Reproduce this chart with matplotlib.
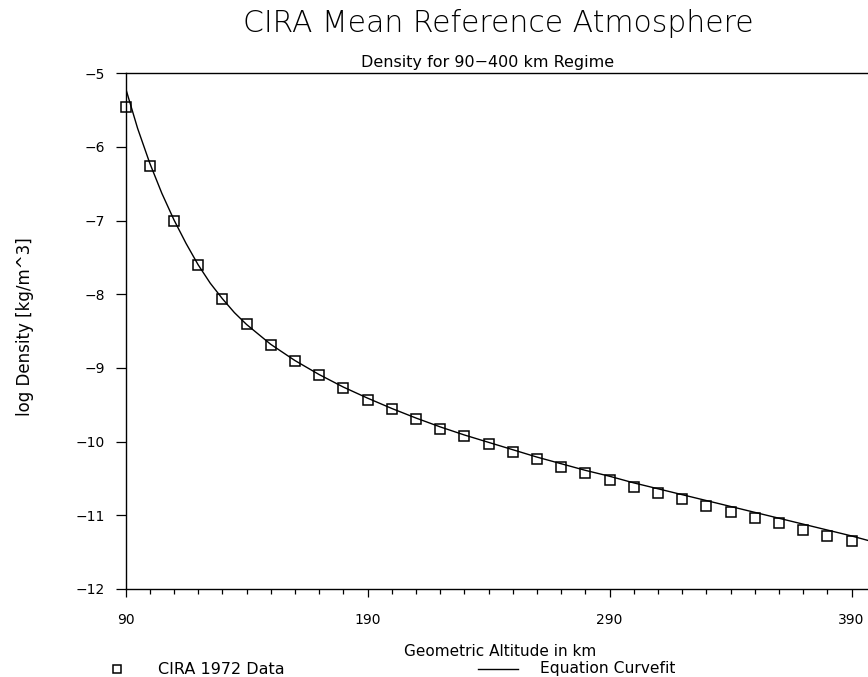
import matplotlib
matplotlib.use('Agg')
import matplotlib.pyplot as plt
from matplotlib.lines import Line2D
from matplotlib.ticker import MultipleLocator

# CIRA 1972 data points (altitude km, log10 density kg/m^3)
altitude = [90, 100, 110, 120, 130, 140, 150, 160, 170, 180, 190,
            200, 210, 220, 230, 240, 250, 260, 270, 280, 290,
            300, 310, 320, 330, 340, 350, 360, 370, 380, 390]
log_density = [-5.46, -6.26, -7.01, -7.61, -8.07, -8.41, -8.69, -8.90, -9.10, -9.27, -9.43,
               -9.56, -9.70, -9.83, -9.93, -10.03, -10.14, -10.24, -10.34, -10.43, -10.52,
               -10.61, -10.70, -10.78, -10.87, -10.95, -11.03, -11.11, -11.20, -11.28, -11.35]

# equation curvefit
fit_altitude = [90, 95, 100, 105, 110, 115, 120, 125, 130, 135, 140, 150, 160, 170, 180,
                190, 200, 210, 220, 230, 240, 250, 260, 270, 280, 290, 300, 310,
                320, 330, 340, 350, 360, 370, 380, 390, 400]
fit_log_density = [-5.20, -5.75, -6.22, -6.63, -6.99, -7.31, -7.60, -7.85, -8.06, -8.25,
                   -8.41, -8.68, -8.90, -9.09, -9.26, -9.41, -9.55, -9.68, -9.80, -9.91,
                   -10.01, -10.11, -10.21, -10.30, -10.39, -10.47, -10.56, -10.64, -10.72,
                   -10.80, -10.88, -10.96, -11.04, -11.12, -11.20, -11.28, -11.37]

xticks = [90, 190, 290, 390]
yticks = [-12, -11, -10, -9, -8, -7, -6, -5]

plt.rcParams['font.family'] = ['DejaVu Sans']

fig = plt.figure(figsize=(8.68, 6.77), dpi=100)
ax = fig.add_axes([0.1446, 0.130, 0.8643, 0.762])

ax.plot(fit_altitude, fit_log_density, color='black', linewidth=1.0)
ax.plot(altitude, log_density, linestyle='none', marker='s', markersize=6.6,
        markerfacecolor='none', markeredgecolor='black', markeredgewidth=1.1, clip_on=False)

ax.set_xlim(90, 400)
ax.set_ylim(-12, -5)
ax.set_xticks(xticks)
ax.set_yticks(yticks)
ax.xaxis.set_minor_locator(MultipleLocator(10))

ax.tick_params(axis='x', which='major', direction='out', length=6, width=0.9, pad=11, labelsize=10)
ax.tick_params(axis='x', which='minor', direction='out', length=3.6, width=0.9)
ax.tick_params(axis='y', which='major', direction='out', length=7, width=0.9, pad=8, labelsize=10)

for side in ['left', 'bottom', 'top', 'right']:
    ax.spines[side].set_linewidth(1.0)

fig.text(498 / 868, 1 - 24 / 677, 'CIRA Mean Reference Atmosphere',
         ha='center', va='center', fontsize=21.5, fontweight='light')
fig.text(488 / 868, 1 - 63 / 677, 'Density for 90\u2212400 km Regime',
         ha='center', va='center', fontsize=11.5)
fig.text(500 / 868, 1 - 652 / 677, 'Geometric Altitude in km',
         ha='center', va='center', fontsize=11)
fig.text(25 / 868, 1 - 327 / 677, 'log Density [kg/m^3]',
         ha='center', va='center', rotation=90, fontsize=12)

# legend row under the x label
fig.add_artist(Line2D([117 / 868], [1 - 669 / 677], marker='s', markersize=5.2,
                      markerfacecolor='none', markeredgecolor='black',
                      markeredgewidth=1.1, linestyle='none', transform=fig.transFigure))
fig.text(158 / 868, 1 - 669 / 677, 'CIRA 1972 Data', ha='left', va='center', fontsize=11.5)
fig.add_artist(Line2D([478 / 868, 518 / 868], [1 - 669 / 677, 1 - 669 / 677],
                      color='black', linewidth=1.0, transform=fig.transFigure))
fig.text(540 / 868, 1 - 669 / 677, 'Equation Curvefit', ha='left', va='center', fontsize=11.2)

fig.savefig('out.png', dpi=100)
